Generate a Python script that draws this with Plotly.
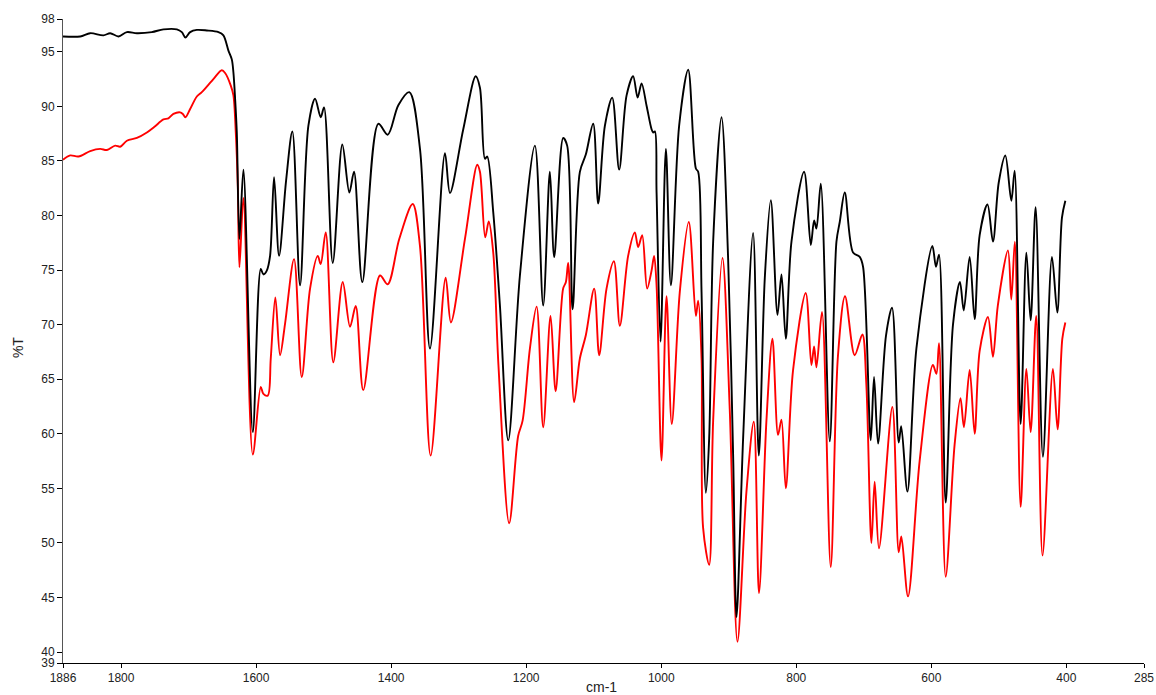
import plotly.graph_objects as go

# Black spectrum (wavenumber cm-1, %T)
black_wn = [1886, 1860.5, 1845.7, 1826.1, 1816.1, 1803.8, 1791.4, 1776.6, 1754.4, 1737.2,
            1717.4, 1710, 1704.7, 1697.7, 1687.8, 1673, 1655.8, 1648.4, 1641, 1636,
            1633.6, 1631.1, 1628.6, 1624.7, 1618.8, 1604.9, 1593.1, 1589.2, 1584.2, 1579.3,
            1573.4, 1566, 1555.6, 1546.3, 1534.9, 1522.6, 1512.7, 1504.3, 1499.4, 1486.5,
            1472.3, 1461.9, 1455, 1442.7, 1419, 1405.1, 1389.4, 1373.1, 1357.3, 1342.5,
            1320.3, 1312.9, 1293.2, 1274.8, 1268.5, 1261.1, 1257.7, 1248.8, 1238.9, 1226.6,
            1209.3, 1187.1, 1174.8, 1164.9, 1158.5, 1145.2, 1139.3, 1131.3, 1120.5, 1111.6,
            1100.8, 1093.4, 1083.5, 1072.6, 1062.3, 1051.3, 1041.6, 1035, 1029.1, 1021.7,
            1014.3, 1012, 1009.4, 1006.9, 1001, 993.1, 985.7, 973.5, 960.1, 948.7,
            945.3, 940.3, 933.9, 929, 923.1, 910.7, 900.9, 893.5, 888.5, 878.7,
            863.9, 855.5, 846.6, 837.7, 827.8, 821.9, 815.5, 807.1, 788.4, 778.5,
            773.6, 770.1, 763.7, 750.4, 740.5, 735.6, 728.2, 715.9, 706, 701.1,
            689.7, 684.8, 678.9, 667.1, 658.2, 648.3, 644.6, 635.4, 622.1, 598.4,
            593.1, 588.6, 578.7, 567.9, 557.6, 552, 543.2, 535.8, 528.4, 516.8,
            508.7, 500.2, 490.4, 481.5, 476.6, 467.7, 459.2, 452.9, 445.5, 434.7,
            421.3, 413.4, 406.5, 401.5]
black_t = [96.4, 96.4, 96.7, 96.5, 96.7, 96.4, 96.8, 96.7, 96.8, 97.05,
           97.05, 96.8, 96.3, 96.8, 97.0, 96.95, 96.8, 96.5, 95.1, 94.3,
           93.1, 90.7, 87.6, 77.85, 84.2, 60.15, 75.1, 74.6, 74.95, 76.3,
           83.5, 76.3, 83.2, 87.7, 73.6, 88.2, 90.7, 89.0, 89.9, 75.65,
           86.5, 82.1, 84.0, 73.9, 88.4, 87.4, 90.1, 91.3, 86.1, 67.8,
           85.7, 82.05, 87.9, 92.75, 91.7, 85.2, 85.4, 80.3, 71.75, 59.4,
           74.5, 86.4, 71.75, 84.0, 76.2, 87.1, 86.4, 71.4, 84.0, 85.6,
           88.4, 81.1, 88.2, 90.8, 84.2, 91.0, 92.75, 90.8, 92.1, 90.05,
           87.9, 87.6, 87.7, 82.1, 68.45, 86.1, 73.6, 88.2, 93.35, 84.3,
           84.0, 73.0, 54.6, 59.6, 77.6, 89.0, 76.0, 58.0, 43.2, 59.6,
           78.4, 58.0, 74.3, 81.4, 70.9, 74.6, 68.7, 77.6, 84.0, 77.3,
           79.55, 78.8, 82.9, 59.3, 77.6, 79.4, 82.1, 76.6, 76.2, 75.3,
           59.4, 65.2, 59.1, 69.0, 71.55, 59.2, 60.7, 54.7, 67.8, 77.2,
           75.3, 76.4, 53.7, 70.0, 73.9, 71.3, 76.2, 70.5, 78.2, 81.0,
           77.6, 83.0, 85.5, 81.35, 84.1, 60.9, 76.6, 70.4, 80.75, 57.9,
           76.2, 71.1, 79.8, 81.35]

# Red spectrum (wavenumber cm-1, %T)
red_wn = [1886, 1875.3, 1863.1, 1845.7, 1830.9, 1821, 1808.7, 1801.3, 1791.4, 1776.6,
          1761.8, 1751, 1737.2, 1729.9, 1722.5, 1712.5, 1708.5, 1704.7, 1697.7, 1687.8,
          1680.4, 1663.3, 1650.8, 1645.9, 1637.5, 1633.6, 1630.1, 1627.1, 1624.7, 1618.8,
          1604.9, 1593.1, 1589.2, 1582.7, 1578.3, 1571.5, 1564.5, 1557.1, 1543.8, 1532.4,
          1520.1, 1508.7, 1504.3, 1496.9, 1485.7, 1471.7, 1460.9, 1452.5, 1441.3, 1416.5,
          1405.1, 1388, 1368.1, 1357.3, 1341.5, 1319.3, 1311.5, 1290.7, 1272.5, 1268.5,
          1260.7, 1255.5, 1248.8, 1241.1, 1225.2, 1211.9, 1205.3, 1194.5, 1184.6, 1174.8,
          1163.9, 1156.4, 1145.3, 1141.2, 1137.8, 1129, 1120.5, 1111.6, 1099.3, 1091.9,
          1081, 1070.1, 1061.3, 1049, 1039.1, 1034.2, 1028.2, 1020.9, 1014.3, 1010.5,
          1006.9, 999.6, 992.2, 984.4, 972.5, 959.2, 948.7, 945.3, 940.3, 938,
          929, 923.1, 909.3, 898.5, 887.1, 873.8, 862.9, 855.2, 844.2, 835.3,
          827, 821.9, 815.5, 804.8, 786, 777.6, 773.6, 770.1, 761.9, 749,
          738.3, 727.8, 713.5, 702.1, 696.2, 688.7, 683.9, 677.5, 657.7, 648.3,
          644.4, 634.5, 617.3, 597.7, 592.5, 588.6, 578.7, 565.5, 556.8, 551.7,
          543.2, 535.8, 528.4, 516.1, 508.7, 501.5, 486.5, 481.5, 476.3, 467.7,
          459.2, 452.9, 444.6, 435.3, 419.9, 413, 406, 401.5]
red_t = [85.1, 85.5, 85.4, 85.9, 86.1, 86.0, 86.4, 86.3, 86.85, 87.1,
         87.6, 88.1, 88.8, 88.9, 89.3, 89.45, 89.3, 89.0, 89.75, 90.9,
         91.3, 92.5, 93.3, 93.05, 91.9, 91.0, 87.6, 82.7, 75.25, 81.6,
         58.1, 64.3, 63.65, 63.5, 66.9, 72.5, 67.2, 70.1, 76.0, 65.2,
         73.3, 76.3, 75.55, 78.45, 66.55, 73.9, 69.8, 71.7, 64.0, 74.5,
         73.7, 77.85, 81.05, 77.2, 58.0, 74.3, 70.2, 77.85, 84.65, 84.0,
         78.0, 79.45, 76.6, 66.3, 51.8, 59.8, 61.2, 67.8, 71.65, 60.6,
         70.8, 63.9, 73.3, 73.9, 75.65, 62.9, 66.9, 69.05, 73.3, 67.2,
         73.3, 75.8, 69.9, 76.3, 78.45, 77.1, 78.2, 73.3, 74.95, 76.3,
         73.6, 57.55, 72.6, 60.9, 73.0, 79.4, 70.8, 72.2, 66.9, 51.4,
         48.0, 61.2, 76.1, 62.2, 40.95, 54.7, 61.1, 45.4, 61.2, 68.7,
         59.9, 61.3, 55.0, 65.8, 72.9, 66.3, 68.0, 66.1, 71.15, 47.8,
         67.1, 72.6, 67.2, 69.1, 64.5, 50.0, 55.6, 49.5, 62.45, 49.15,
         50.6, 45.1, 57.5, 66.3, 65.5, 68.3, 46.9, 59.0, 63.25, 60.6,
         65.85, 60.0, 67.6, 70.7, 67.05, 71.75, 76.8, 72.3, 77.6, 53.3,
         65.95, 60.15, 70.8, 48.85, 65.95, 60.4, 68.7, 70.2]

x_tickvals = [1886, 1800, 1600, 1400, 1200, 1000, 800, 600, 400, 285]
y_tickvals = [39, 40, 45, 50, 55, 60, 65, 70, 75, 80, 85, 90, 95, 98]
x_title = "cm-1"
y_title = "%T"

fig = go.Figure()
fig.add_trace(go.Scatter(x=red_wn, y=red_t, mode="lines",
                         line=dict(color="#ff0000", width=1.9, shape="spline", smoothing=0.9),
                         name="red", showlegend=False, hoverinfo="skip"))
fig.add_trace(go.Scatter(x=black_wn, y=black_t, mode="lines",
                         line=dict(color="#000000", width=1.9, shape="spline", smoothing=0.9),
                         name="black", showlegend=False, hoverinfo="skip"))

font_family = "Liberation Sans, Arial, sans-serif"
fig.update_layout(
    width=1156, height=695, autosize=False,
    margin=dict(l=63, r=12, t=19, b=32),
    paper_bgcolor="white", plot_bgcolor="white",
    font=dict(family=font_family, size=12, color="#222"),
    xaxis=dict(range=[1886, 285], tickvals=x_tickvals, ticktext=[str(v) for v in x_tickvals],
               ticks="outside", ticklen=4, tickcolor="#000", showline=True, linecolor="#000",
               linewidth=1, showgrid=False, zeroline=False, automargin=False,
               tickfont=dict(size=12)),
    yaxis=dict(range=[39, 98], tickvals=y_tickvals, ticktext=[str(v) for v in y_tickvals],
               ticks="outside", ticklen=5, tickcolor="#000", showline=True, linecolor="#555",
               linewidth=1, showgrid=False, zeroline=False, automargin=False,
               tickfont=dict(size=12)),
    annotations=[
        dict(text=x_title, xref="paper", yref="paper", x=0.4977, y=-0.037,
             xanchor="center", yanchor="middle", showarrow=False,
             font=dict(size=14, family=font_family, color="#222")),
        dict(text=y_title, xref="paper", yref="paper", x=-0.0416, y=0.489,
             xanchor="center", yanchor="middle", showarrow=False, textangle=-90,
             font=dict(size=14, family=font_family, color="#222")),
    ],
)

# Remove the default page margin so the 1156x695 figure fills the window exactly.
fig.write_html("out.html",
               config={"displayModeBar": False},
               post_script="document.body.style.margin='0';document.body.style.overflow='hidden';")
